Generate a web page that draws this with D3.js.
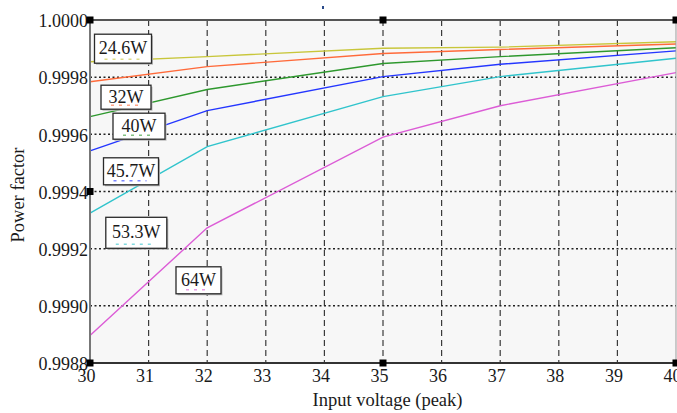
<!DOCTYPE html>
<html>
<head>
<meta charset="utf-8">
<script src="https://cdn.jsdelivr.net/npm/d3@7"></script>
<style>
  html, body { margin: 0; padding: 0; background: #fff; }
  svg { display: block; }
  text { font-family: "Liberation Serif", "Times New Roman", serif; fill: #1a1a1a; }
</style>
</head>
<body>
<svg id="chart" width="677" height="413"></svg>
<script>
// Input voltage (peak) sample points
const voltages = [30, 32, 35, 37, 40];

// Power factor for each output power
const pf24_6 = [0.999854, 0.999872, 0.999901, 0.999905, 0.999924];
const pf32   = [0.999784, 0.999837, 0.999883, 0.999897, 0.999916];
const pf40   = [0.999662, 0.999757, 0.999848, 0.999872, 0.999903];
const pf45_7 = [0.999542, 0.999683, 0.999802, 0.999845, 0.999892];
const pf53_3 = [0.999324, 0.999557, 0.999732, 0.999802, 0.999866];
const pf64   = [0.998896, 0.999273, 0.999590, 0.999700, 0.999816];

const seriesNames = ["24.6W", "32W", "40W", "45.7W", "53.3W", "64W"];
const seriesValues = [pf24_6, pf32, pf40, pf45_7, pf53_3, pf64];

const xTicks = [30, 31, 32, 33, 34, 35, 36, 37, 38, 39, 40];
const yTicks = [0.9988, 0.9990, 0.9992, 0.9994, 0.9996, 0.9998, 1.0000];

// Styling and label layout
const colors = ["#c8c63a", "#ff6a3a", "#2e982e", "#2436ff", "#30c4cc", "#dc5cd6"];
const labelBoxes = [ // [cx, cy, w, h] in pixels
  [123, 48.7, 57, 29],
  [126, 97.2, 50, 24],
  [139, 126.2, 52, 26],
  [131, 171.3, 55, 27],
  [136.3, 232.8, 61, 31],
  [198.5, 280.3, 45, 27]
];

const svg = d3.select("#chart");
const m = { left: 90, top: 20, right: 676, bottom: 363 };

const x = d3.scaleLinear().domain([30, 40]).range([m.left, m.right]);
const y = d3.scaleLinear().domain([0.9988, 1.0000]).range([m.bottom, m.top]);

// plot background
svg.append("rect")
  .attr("x", m.left).attr("y", m.top)
  .attr("width", m.right - m.left).attr("height", m.bottom - m.top)
  .attr("fill", "#f7f7f7");

// grid: dashed verticals, dotted horizontals
svg.append("g").selectAll("line")
  .data(xTicks.slice(1, -1))
  .join("line")
  .attr("x1", d => x(d)).attr("x2", d => x(d))
  .attr("y1", m.top).attr("y2", m.bottom)
  .attr("stroke", "#3a3a3a").attr("stroke-width", 1.2)
  .attr("stroke-dasharray", "6,4");

svg.append("g").selectAll("line")
  .data(yTicks.slice(1, -1))
  .join("line")
  .attr("x1", m.left).attr("x2", m.right)
  .attr("y1", d => y(d)).attr("y2", d => y(d))
  .attr("stroke", "#222").attr("stroke-width", 1.5)
  .attr("stroke-dasharray", "2,2.5");

// curves
const line = d3.line()
  .x((d, i) => x(voltages[i]))
  .y(d => y(d));

svg.append("g").selectAll("path")
  .data(seriesValues)
  .join("path")
  .attr("d", d => line(d))
  .attr("fill", "none")
  .attr("stroke", (d, i) => colors[i])
  .attr("stroke-width", 1.4);

// frame
svg.append("line").attr("x1", m.left).attr("x2", m.right + 1).attr("y1", m.top).attr("y2", m.top)
  .attr("stroke", "#555").attr("stroke-width", 2);
svg.append("line").attr("x1", m.left).attr("x2", m.right + 1).attr("y1", m.bottom).attr("y2", m.bottom)
  .attr("stroke", "#333").attr("stroke-width", 2);
svg.append("line").attr("x1", m.left).attr("x2", m.left).attr("y1", m.top).attr("y2", m.bottom)
  .attr("stroke", "#777").attr("stroke-width", 2);
svg.append("line").attr("x1", m.right).attr("x2", m.right).attr("y1", m.top).attr("y2", m.bottom)
  .attr("stroke", "#999").attr("stroke-width", 1);

// axes (labels only)
const xAxis = svg.append("g")
  .attr("transform", `translate(-4,${m.bottom})`)
  .call(d3.axisBottom(x).tickValues(xTicks).tickSize(0).tickPadding(6).tickFormat(d3.format("d")));
const yAxis = svg.append("g")
  .attr("transform", `translate(${m.left - 2},1)`)
  .call(d3.axisLeft(y).tickValues(yTicks).tickSize(0).tickPadding(0).tickFormat(d3.format(".4f")));
[xAxis, yAxis].forEach(g => {
  g.select(".domain").remove();
  g.selectAll("text")
    .attr("font-family", '"Liberation Serif", serif')
    .attr("font-size", 18)
    .attr("fill", "#1a1a1a");
});

// selection handles on the frame
const handles = [[30, 1.0000], [35, 1.0000], [40, 1.0000], [30, 0.9994], [30, 0.9988], [35, 0.9988], [40, 0.9988]];
svg.append("g").selectAll("rect")
  .data(handles)
  .join("rect")
  .attr("x", d => x(d[0]) - 3.5).attr("y", d => y(d[1]) - 3.5)
  .attr("width", 7).attr("height", 7)
  .attr("fill", "#000");
svg.append("rect").attr("x", 322).attr("y", 6).attr("width", 2).attr("height", 3).attr("fill", "#2a4a8a");

// series labels
const lbl = svg.append("g").selectAll("g")
  .data(seriesNames)
  .join("g")
  .attr("transform", (d, i) => `translate(${labelBoxes[i][0]},${labelBoxes[i][1]})`);
lbl.append("rect")
  .attr("x", (d, i) => -labelBoxes[i][2] / 2 + 1.5)
  .attr("y", (d, i) => -labelBoxes[i][3] / 2 + 1.5)
  .attr("width", (d, i) => labelBoxes[i][2])
  .attr("height", (d, i) => labelBoxes[i][3])
  .attr("fill", "#b8b8b8");
lbl.append("rect")
  .attr("x", (d, i) => -labelBoxes[i][2] / 2)
  .attr("y", (d, i) => -labelBoxes[i][3] / 2)
  .attr("width", (d, i) => labelBoxes[i][2])
  .attr("height", (d, i) => labelBoxes[i][3])
  .attr("fill", "#fff")
  .attr("stroke", "#2a2a2a").attr("stroke-width", 1.3);
lbl.append("line")
  .attr("x1", (d, i) => -labelBoxes[i][2] / 2 + 10)
  .attr("x2", (d, i) => labelBoxes[i][2] / 2 - 12)
  .attr("y1", (d, i) => labelBoxes[i][3] / 2 - 4)
  .attr("y2", (d, i) => labelBoxes[i][3] / 2 - 4)
  .attr("stroke", (d, i) => colors[i]).attr("stroke-width", 1.5)
  .attr("stroke-dasharray", "3,5").attr("opacity", 0.6);
lbl.append("text")
  .attr("text-anchor", "middle")
  .attr("y", 5.5)
  .attr("font-size", 18)
  .text(d => d);

// axis titles
svg.append("text")
  .attr("x", 387.5).attr("y", 406)
  .attr("text-anchor", "middle")
  .attr("font-size", 18.5)
  .text("Input voltage (peak)");
svg.append("text")
  .attr("transform", "translate(24,195) rotate(-90)")
  .attr("text-anchor", "middle")
  .attr("font-size", 18.5)
  .text("Power factor");
</script>
</body>
</html>
